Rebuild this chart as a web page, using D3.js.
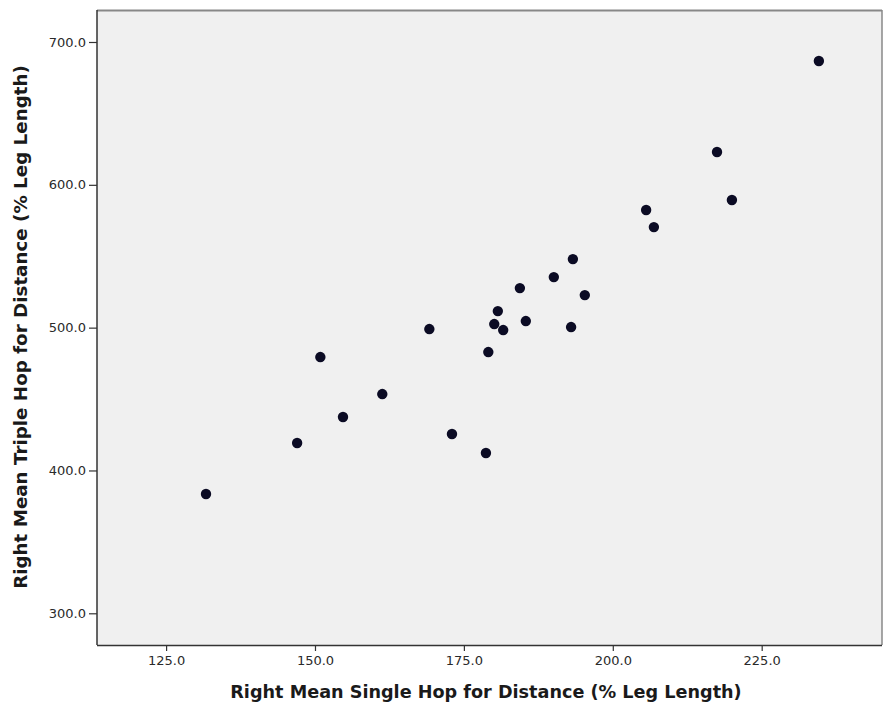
<!DOCTYPE html>
<html><head><meta charset="utf-8">
<script src="https://cdn.jsdelivr.net/npm/d3@7"></script>
<style>body{margin:0;background:#fff;}svg{display:block;}</style>
</head><body>
<script>
const singleHop = [234.6,217.5,220.0,205.6,206.9,193.3,190.1,184.4,195.3,180.7,180.1,181.6,185.4,193.0,169.2,179.1,150.9,161.3,154.7,173.0,147.0,178.7,131.7];
const tripleHop = [686.7,623.0,589.4,582.4,570.4,548.0,535.4,527.7,522.8,511.6,502.5,498.3,504.6,500.4,499.0,482.9,479.4,453.5,437.4,425.5,419.2,412.2,383.5];
const xTicks = [125,150,175,200,225];
const yTicks = [300,400,500,600,700];
const xTitle = "Right Mean Single Hop for Distance (% Leg Length)";
const yTitle = "Right Mean Triple Hop for Distance (% Leg Length)";

const W=883,H=713;
const L=97,R=882,T=10,B=645;
const FONT="DejaVu Sans, Verdana, sans-serif";
const svg=d3.select("body").append("svg").attr("width",W).attr("height",H);
const x=d3.scaleLinear().domain([113.4,245.2]).range([L,R]);
const y=d3.scaleLinear().domain([277.8,722.4]).range([B,T]);

svg.append("rect").attr("x",L).attr("y",T).attr("width",R-L).attr("height",B-T).attr("fill","#f0f0f0");
svg.append("line").attr("x1",L).attr("x2",R).attr("y1",T+0.5).attr("y2",T+0.5).attr("stroke","#888").attr("stroke-width",2);
svg.append("line").attr("x1",R).attr("x2",R).attr("y1",T).attr("y2",B).attr("stroke","#888").attr("stroke-width",1.5);

const fmt=d3.format(".1f");
const xa=svg.append("g").attr("transform",`translate(0,${B})`)
  .call(d3.axisBottom(x).tickValues(xTicks).tickFormat(fmt).tickSize(6).tickSizeOuter(0));
const ya=svg.append("g").attr("transform",`translate(${L},0)`)
  .call(d3.axisLeft(y).tickValues(yTicks).tickFormat(fmt).tickSize(8).tickSizeOuter(0));
[xa,ya].forEach(g=>{
  g.select(".domain").attr("stroke","#333").attr("stroke-width",1.5);
  g.selectAll(".tick line").attr("stroke","#333").attr("stroke-width",1.2);
  g.selectAll("text").attr("fill","#2a2a2a").style("font-family",FONT).style("font-size","13px");
});
xa.selectAll("text").attr("y",9).attr("dy","0.85em");
ya.selectAll("text").attr("x",-11);
xa.select(".domain").attr("d",`M${L},0.5H${R}`);
ya.select(".domain").attr("d",`M0,${T}V${B}`);

svg.append("g").selectAll("circle").data(singleHop.map((v,i)=>[v,tripleHop[i]])).join("circle")
  .attr("cx",d=>x(d[0])).attr("cy",d=>y(d[1])).attr("r",5.2).attr("fill","#0b0b24");

function fit(t,target){
  let fs=16; t.style("font-size",fs+"px");
  const w=t.node().getComputedTextLength();
  t.style("font-size",(fs*target/w)+"px");
}
const xt=svg.append("text").attr("x",486).attr("y",698).attr("text-anchor","middle")
  .style("font-family",FONT).style("font-weight","bold").attr("fill","#1a1a1a").text(xTitle);
fit(xt,512);
const yt=svg.append("text").attr("transform",`translate(26.5,327) rotate(-90)`).attr("text-anchor","middle")
  .style("font-family",FONT).style("font-weight","bold").attr("fill","#1a1a1a").text(yTitle);
fit(yt,524);
</script>
</body></html>
